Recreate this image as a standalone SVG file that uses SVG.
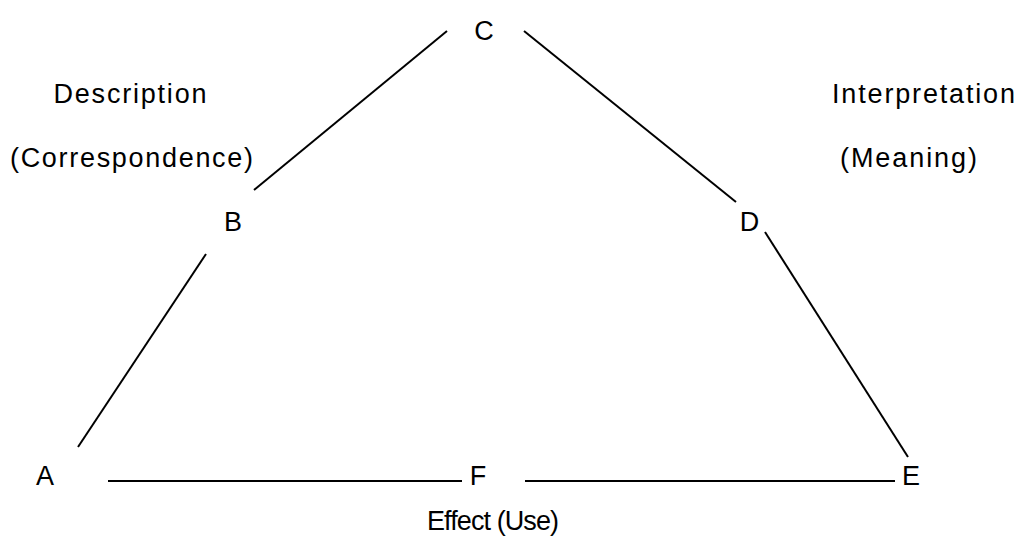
<svg xmlns="http://www.w3.org/2000/svg" width="1021" height="553" viewBox="0 0 1021 553">
  <style>
    .lbl { font-family: "Liberation Sans", Arial, sans-serif; font-size: 27px; fill: #000; text-anchor: middle; }
    .edge { stroke: #000; stroke-width: 2; fill: none; stroke-linecap: butt; }
  </style>
  <rect width="1021" height="553" fill="#fff"/>
  <g id="connectors">
    <line class="edge" x1="447" y1="31" x2="254" y2="190"/>
    <line class="edge" x1="206" y1="254" x2="78" y2="447"/>
    <line class="edge" x1="524" y1="31" x2="736" y2="202"/>
    <line class="edge" x1="765" y1="232" x2="908" y2="457"/>
    <line class="edge" x1="108" y1="481" x2="462" y2="481"/>
    <line class="edge" x1="525" y1="481" x2="895" y2="481"/>
  </g>
  <g id="node-C"><text class="lbl" x="484" y="40">C</text></g>
  <g id="node-B"><text class="lbl" x="233" y="231">B</text></g>
  <g id="node-D"><text class="lbl" x="749.5" y="231">D</text></g>
  <g id="node-A"><text class="lbl" x="45" y="485">A</text></g>
  <g id="node-F"><text class="lbl" x="478" y="485">F</text></g>
  <g id="node-E"><text class="lbl" x="911" y="485">E</text></g>
  <g id="label-description">
    <text class="lbl" x="130" y="103" textLength="153" lengthAdjust="spacing">Description</text>
    <text class="lbl" x="131.5" y="167" textLength="243" lengthAdjust="spacing">(Correspondence)</text>
  </g>
  <g id="label-interpretation">
    <text class="lbl" x="923.5" y="103" textLength="183" lengthAdjust="spacing">Interpretation</text>
    <text class="lbl" x="908.5" y="167" textLength="137" lengthAdjust="spacing">(Meaning)</text>
  </g>
  <g id="label-effect">
    <text class="lbl" x="493" y="530" textLength="132" lengthAdjust="spacing">Effect (Use)</text>
  </g>
</svg>
